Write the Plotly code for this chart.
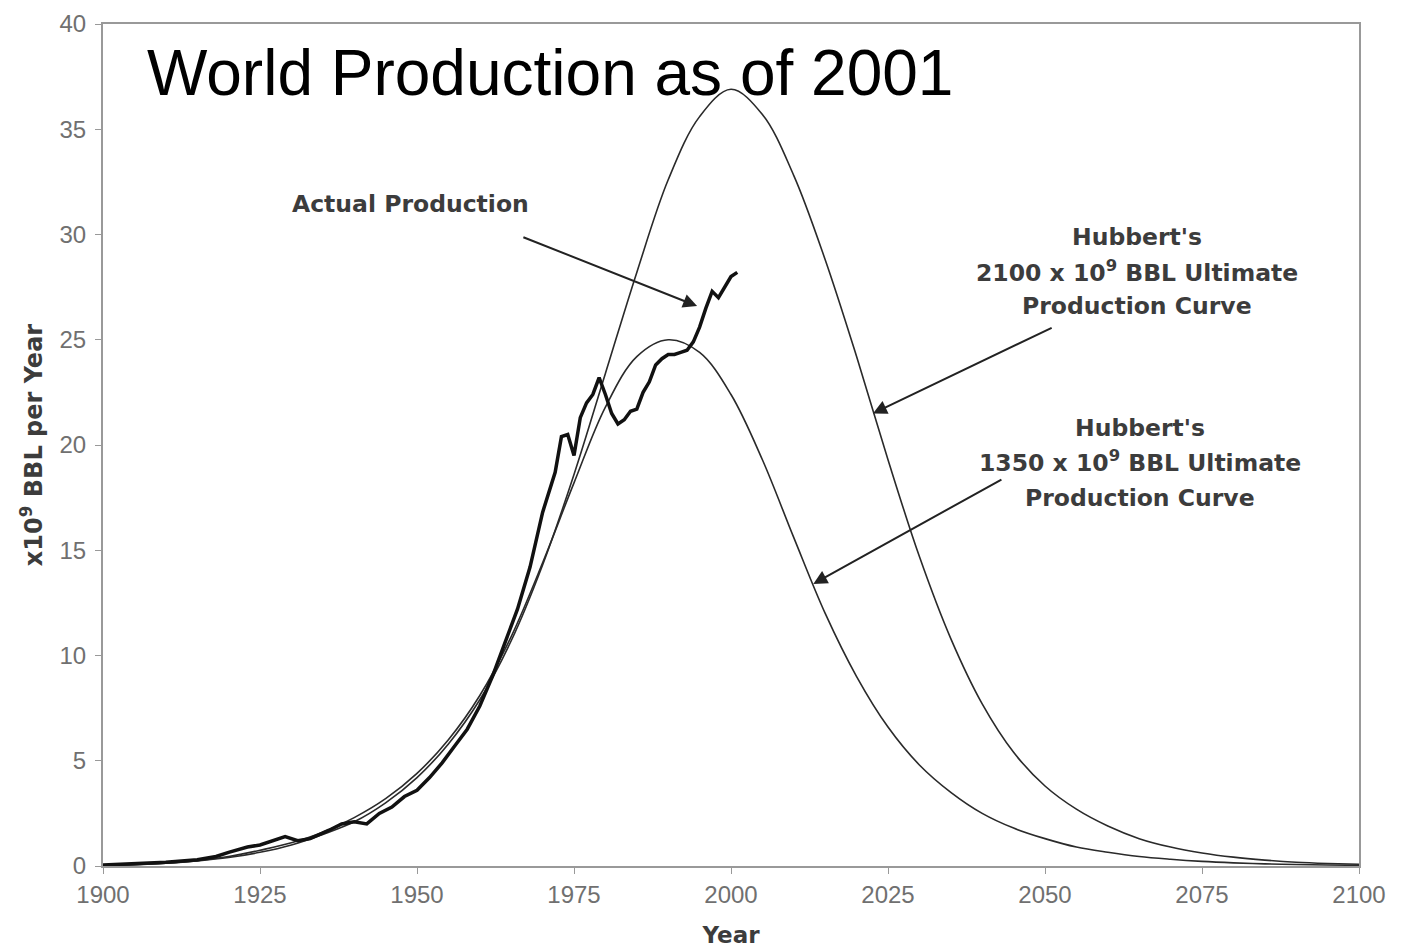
import plotly.graph_objects as go

# Hubbert curves, every 5 years
hub_years = list(range(1900, 2101, 5))
hub_2100 = [0.02, 0.06, 0.13, 0.24, 0.4, 0.65, 1.0, 1.5, 2.1, 3.0, 4.2, 5.8, 7.9,
            10.7, 14.3, 18.6, 23.4, 28.2, 32.6, 35.6, 36.9, 35.7, 32.8, 28.8,
            24.2, 19.3, 14.7, 10.8, 7.7, 5.4, 3.8, 2.7, 1.9, 1.3, 0.9, 0.62,
            0.42, 0.28, 0.18, 0.12, 0.08]
hub_1350 = [0.02, 0.06, 0.13, 0.25, 0.45, 0.75, 1.1, 1.6, 2.3, 3.2, 4.4, 6.0, 8.1,
            10.9, 14.4, 18.2, 21.8, 24.2, 25.0, 24.4, 22.4, 19.3, 15.6, 12.0,
            9.0, 6.6, 4.8, 3.5, 2.5, 1.8, 1.3, 0.9, 0.65, 0.45, 0.32, 0.22,
            0.15, 0.1, 0.07, 0.05, 0.03]

# Actual production
act_years = [1900, 1905, 1910, 1915, 1918, 1920, 1923, 1925, 1927, 1929, 1931,
             1933, 1936, 1938, 1940, 1942, 1944, 1946, 1948, 1950, 1952, 1954,
             1956, 1958, 1960, 1962, 1964, 1966, 1968, 1970, 1972, 1973, 1974,
             1975, 1976, 1977, 1978, 1979, 1980, 1981, 1982, 1983, 1984, 1985,
             1986, 1987, 1988, 1989, 1990, 1991, 1992, 1993, 1994, 1995, 1996,
             1997, 1998, 1999, 2000, 2001]
act_vals = [0.05, 0.1, 0.18, 0.3, 0.45, 0.65, 0.9, 1.0, 1.2, 1.4, 1.2,
            1.3, 1.7, 2.0, 2.1, 2.0, 2.5, 2.8, 3.3, 3.6, 4.2, 4.9,
            5.7, 6.5, 7.6, 9.0, 10.6, 12.2, 14.2, 16.8, 18.7, 20.4, 20.5,
            19.5, 21.3, 22.0, 22.4, 23.2, 22.4, 21.5, 21.0, 21.2, 21.6, 21.7,
            22.5, 23.0, 23.8, 24.1, 24.3, 24.3, 24.4, 24.5, 24.9, 25.6, 26.5,
            27.3, 27.0, 27.5, 28.0, 28.2]

x_ticks = list(range(1900, 2101, 25))
y_ticks = list(range(0, 41, 5))

LABEL_FONT = dict(family="DejaVu Sans", size=23.5, color="#3c3c3c")

fig = go.Figure()

fig.add_trace(go.Scatter(x=hub_years, y=hub_2100, mode="lines",
                         line=dict(color="#2a2a2a", width=1.6, shape="spline", smoothing=1.0)))
fig.add_trace(go.Scatter(x=hub_years, y=hub_1350, mode="lines",
                         line=dict(color="#2a2a2a", width=1.6, shape="spline", smoothing=1.0)))
fig.add_trace(go.Scatter(x=act_years, y=act_vals, mode="lines",
                         line=dict(color="#111111", width=3.5)))

annotations = [
    dict(text="World Production as of 2001", xref="paper", yref="paper",
         x=0.0334, y=0.9418, xanchor="left", yanchor="middle", showarrow=False,
         font=dict(family="Liberation Sans, Arial", size=64, color="black")),
    dict(text="<b>Actual Production</b>", x=1949.0, y=31.45, showarrow=False, font=LABEL_FONT),
    dict(text="<b>Hubbert's</b>", x=2064.6, y=29.9, showarrow=False, font=LABEL_FONT),
    dict(text="<b>2100 x 10<sup>9</sup> BBL Ultimate</b>", x=2064.6, y=28.25, showarrow=False, font=LABEL_FONT),
    dict(text="<b>Production Curve</b>", x=2064.6, y=26.6, showarrow=False, font=LABEL_FONT),
    dict(text="<b>Hubbert's</b>", x=2065.1, y=20.8, showarrow=False, font=LABEL_FONT),
    dict(text="<b>1350 x 10<sup>9</sup> BBL Ultimate</b>", x=2065.1, y=19.2, showarrow=False, font=LABEL_FONT),
    dict(text="<b>Production Curve</b>", x=2065.1, y=17.5, showarrow=False, font=LABEL_FONT),
]

# arrows: (tip year, tip value, tail year, tail value)
arrows = [
    (1994.6, 26.6, 1966.7, 29.9),
    (2022.6, 21.5, 2051.3, 25.6),
    (2013.1, 13.4, 2043.3, 18.4),
]
for tx, ty, sx, sy in arrows:
    annotations.append(dict(text="", x=tx, y=ty, ax=sx, ay=sy, axref="x", ayref="y",
                            showarrow=True, arrowhead=2, arrowsize=1.4, arrowwidth=2,
                            arrowcolor="#222222"))

fig.update_layout(
    width=1396,
    height=940,
    plot_bgcolor="white",
    paper_bgcolor="white",
    showlegend=False,
    margin=dict(l=95, r=45, t=16, b=82),
    annotations=annotations,
    xaxis=dict(
        range=[1900, 2100],
        tickvals=x_ticks,
        ticks="outside",
        ticklen=6,
        tickcolor="#999999",
        showline=True,
        linecolor="#999999",
        linewidth=2,
        mirror=True,
        showgrid=False,
        zeroline=False,
        automargin=False,
        tickfont=dict(family="Liberation Sans, Arial", size=24, color="#707070"),
        title=dict(text="<b>Year</b>", standoff=21,
                   font=dict(family="DejaVu Sans", size=23, color="#3c3c3c")),
    ),
    yaxis=dict(
        range=[0, 40],
        tickvals=y_ticks,
        ticks="outside",
        ticklen=6,
        tickcolor="#999999",
        showline=True,
        linecolor="#999999",
        linewidth=2,
        mirror=True,
        showgrid=False,
        zeroline=False,
        automargin=False,
        ticklabelstandoff=4,
        tickfont=dict(family="Liberation Sans, Arial", size=24, color="#707070"),
        title=dict(text="<b>x10<sup>9</sup> BBL per Year</b>", standoff=10,
                   font=dict(family="DejaVu Sans", size=24, color="#3c3c3c")),
    ),
)

fig.write_html("out.html")
